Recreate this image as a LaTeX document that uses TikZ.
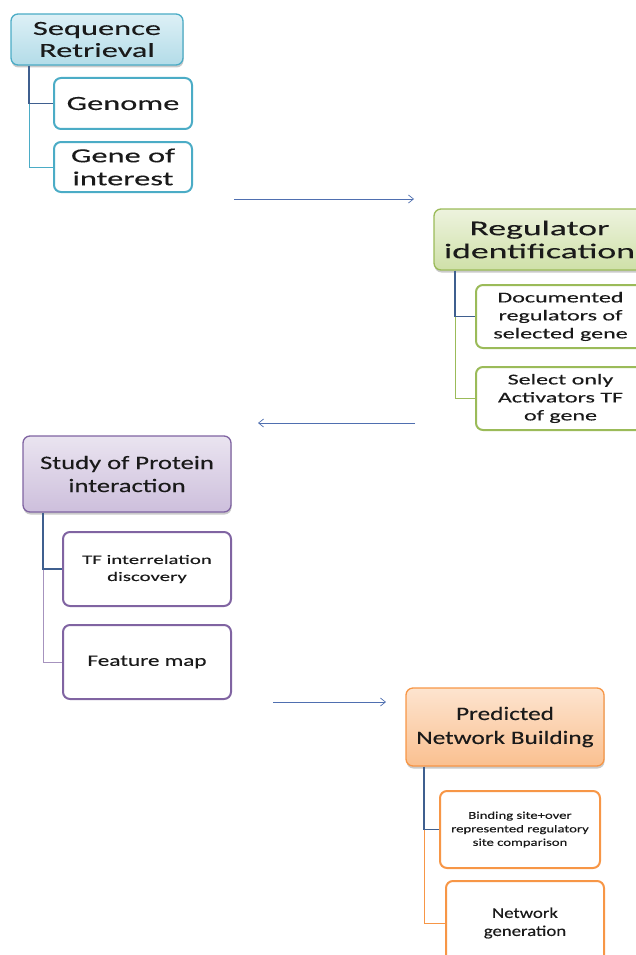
\documentclass[tikz,border=0pt]{standalone}
\usepackage{fontspec}
\setmainfont{Carlito}[FakeBold=0.2]
\usetikzlibrary{arrows.meta,shadows}
\definecolor{bluefillA}{HTML}{DDF0F6}
\definecolor{bluefillB}{HTML}{B3DCE8}
\definecolor{blueline}{HTML}{4BACC6}
\definecolor{greenfillA}{HTML}{EDF3DE}
\definecolor{greenfillB}{HTML}{CFE0A8}
\definecolor{greenline}{HTML}{9BBB59}
\definecolor{purplefillA}{HTML}{EAE4F0}
\definecolor{purplefillB}{HTML}{CDBFDC}
\definecolor{purpleline}{HTML}{8064A2}
\definecolor{orangefillA}{HTML}{FDE4CF}
\definecolor{orangefillB}{HTML}{FAC090}
\definecolor{orangeline}{HTML}{F79646}
\definecolor{arrowblue}{HTML}{4F6FB0}
\definecolor{darkconn}{HTML}{3F5F8F}
\definecolor{txt}{HTML}{1A1A1A}
\newcommand{\fnt}[3]{\fontsize{#1}{#2}\selectfont\addfontfeature{FakeStretch=#3}}
\tikzset{
  header/.style={rectangle, rounded corners=7pt, line width=1.3pt, align=center, text=txt,
    drop shadow={shadow xshift=0.5pt, shadow yshift=-2.5pt, opacity=0.35, fill=black!60}},
  child/.style={rectangle, rounded corners=7pt, line width=2pt, fill=white, align=center, text=txt},
  flow/.style={draw=arrowblue, line width=0.7pt, -{Straight Barb[length=5pt,width=8pt,line width=0.7pt]}},
  firstconn/.style={draw=darkconn, line width=1.8pt},
}
\begin{document}
\begin{tikzpicture}[x=1pt,y=-1pt]
\useasboundingbox (0,0) rectangle (636,955);
% Sequence Retrieval
\node[header, draw=blueline, top color=bluefillA, bottom color=bluefillB,
  minimum width=172pt, minimum height=51pt, font=\fnt{20}{22}{1.62}] (seq) at (97,39.5) {Sequence\\Retrieval};
\node[child, draw=blueline, minimum width=138pt, minimum height=51pt, font=\fnt{20}{22}{1.62}] (genome) at (123,103.5) {Genome};
\node[child, draw=blueline, minimum width=138pt, minimum height=50pt, font=\fnt{20}{23}{1.62}] (gene) at (123,167) {Gene of\\interest};
\draw[blueline, line width=1pt] ([xshift=19pt]seq.south west) |- (gene.west);
\draw[firstconn] ([xshift=19pt]seq.south west) |- (genome.west);
% Regulator identification
\node[header, draw=greenline, top color=greenfillA, bottom color=greenfillB,
  minimum width=211pt, minimum height=61pt, font=\fnt{21}{23}{1.7}] (reg) at (539.5,239.5) {Regulator\\identification};
\node[child, draw=greenline, minimum width=169pt, minimum height=63pt, font=\fnt{15}{18}{1.6}] (doc) at (560.5,316.5) {Documented\\regulators of\\selected gene};
\node[child, draw=greenline, minimum width=169pt, minimum height=63pt, font=\fnt{15}{18}{1.6}] (sel) at (560.5,398.5) {Select only\\Activators TF\\of gene};
\draw[greenline, line width=1pt] ([xshift=22pt]reg.south west) |- (sel.west);
\draw[firstconn] ([xshift=22pt]reg.south west) |- (doc.west);
% Study of Protein interaction
\node[header, draw=purpleline, top color=purplefillA, bottom color=purplefillB,
  minimum width=208pt, minimum height=76pt, font=\fnt{19}{23}{1.4}] (study) at (127,474) {Study of Protein\\interaction};
\node[child, draw=purpleline, minimum width=168pt, minimum height=74pt, font=\fnt{13}{17}{1.6}] (tf) at (147,569) {TF interrelation\\discovery};
\node[child, draw=purpleline, minimum width=168pt, minimum height=74pt, font=\fnt{16}{18}{1.45}] (feat) at (147,662) {Feature map};
\draw[purpleline!70, line width=1pt] ([xshift=21pt]study.south west) |- (feat.west);
\draw[firstconn] ([xshift=21pt]study.south west) |- (tf.west);
% Predicted Network Building
\node[header, draw=orangeline, top color=orangefillA, bottom color=orangefillB,
  minimum width=198pt, minimum height=78pt, font=\fnt{19}{24}{1.33}] (pred) at (505,727) {Predicted\\Network Building};
\node[child, draw=orangeline, minimum width=160pt, minimum height=77pt, font=\fnt{10.5}{13.5}{1.4}] (bind) at (520,829.5) {Binding site+over\\represented regulatory\\site comparison};
\node[child, draw=orangeline, minimum width=158pt, minimum height=84pt, font=\fnt{15}{18}{1.25}] (netgen) at (525,923) {Network\\generation};
\draw[orangeline, line width=1pt] ([xshift=19pt]pred.south west) |- (netgen.west);
\draw[firstconn] ([xshift=19pt]pred.south west) |- (bind.west);
% flow arrows
\coordinate (a1s) at (234,199); \coordinate (a1e) at (414,199);
\coordinate (a2s) at (415,423); \coordinate (a2e) at (258,423);
\coordinate (a3s) at (273,702); \coordinate (a3e) at (386,702);
\draw[flow] (a1s) -- (a1e);
\draw[flow] (a2s) -- (a2e);
\draw[flow] (a3s) -- (a3e);
\end{tikzpicture}
\end{document}
